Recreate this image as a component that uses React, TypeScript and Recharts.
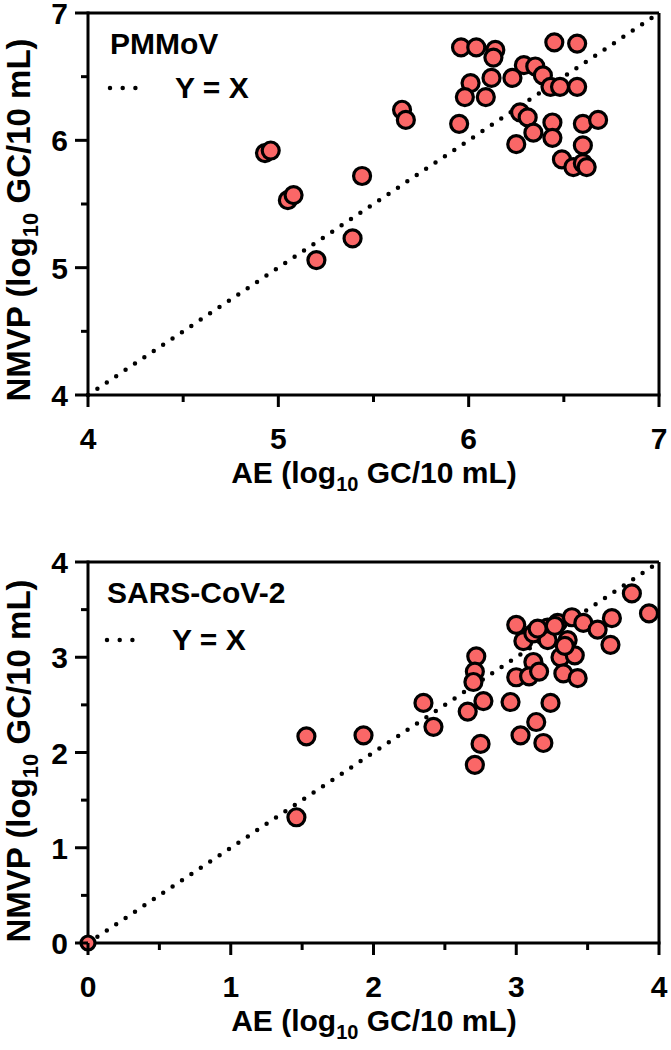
import React from 'react'
import { ScatterChart, Scatter, XAxis, YAxis, ReferenceLine } from 'recharts'

const FONT = '"Liberation Sans", Arial, Helvetica, sans-serif'
const FILL = '#FA6767'

// PMMoV panel
const pmmovAE = [
  4.93, 4.96, 5.05, 5.08, 5.44, 5.39, 5.2, 5.96, 6.04, 6.14, 6.13, 6.45, 6.57, 6.29,
  6.35, 6.39, 6.23, 6.12, 6.01, 5.98, 6.09, 6.43, 6.48, 6.57, 5.65, 5.67, 5.95, 6.27,
  6.31, 6.44, 6.34, 6.44, 6.25, 6.6, 6.68, 6.6, 6.49, 6.55, 6.6, 6.62,
]
const pmmovNMVP = [
  5.9, 5.92, 5.53, 5.57, 5.72, 5.23, 5.06, 6.73, 6.73, 6.71, 6.65, 6.77, 6.76, 6.59,
  6.58, 6.51, 6.49, 6.49, 6.45, 6.34, 6.34, 6.42, 6.42, 6.42, 6.24, 6.16, 6.13, 6.22,
  6.18, 6.14, 6.06, 6.02, 5.97, 6.13, 6.16, 5.96, 5.85, 5.79, 5.82, 5.79,
]
const pmmovTicks = [4, 4.5, 5, 5.5, 6, 6.5, 7]

// SARS-CoV-2 panel
const sarsAE = [
  1.46, 1.53, 1.93, 2.35, 2.42, 2.72, 2.71, 2.7, 2.77, 2.66, 2.75, 2.71, 2.96, 3.0,
  3.05, 3.12, 3.12, 3.0, 3.09, 3.16, 3.22, 3.22, 3.29, 3.39, 3.47, 3.36, 3.31, 3.41,
  3.33, 3.43, 3.24, 3.14, 3.03, 3.19, 3.57, 3.67, 3.66, 3.81, 3.93, 3.15, 3.27, 3.34,
]
const sarsNMVP = [
  1.32, 2.17, 2.18, 2.52, 2.27, 3.01, 2.85, 2.74, 2.54, 2.43, 2.09, 1.87, 2.53, 3.34,
  3.17, 3.25, 2.95, 2.79, 2.8, 2.85, 3.31, 3.18, 3.36, 3.42, 3.36, 3.18, 3.0, 3.02,
  2.83, 2.78, 2.52, 2.32, 2.18, 2.1, 3.29, 3.41, 3.13, 3.67, 3.46, 3.3, 3.33, 3.12,
]
const sarsZero = [{ x: 0, y: 0 }]
const sarsTicks = [0, 0.5, 1, 1.5, 2, 2.5, 3, 3.5, 4]

const toPoints = (xs: number[], ys: number[]) => xs.map((x, i) => ({ x, y: ys[i] }))

const dot = (r: number) => (p: any) => (
  <circle cx={p.cx} cy={p.cy} r={r} fill={FILL} stroke="#000" strokeWidth={3.2} />
)

const XTick = (p: any) => {
  const major = Number.isInteger(p.payload.value)
  return (
    <g>
      <line x1={p.x} x2={p.x} y1={p.y} y2={p.y + (major ? 12 : 7)} stroke="#000" strokeWidth={3} />
      {major && (
        <text x={p.x} y={p.y + 54} textAnchor="middle" fontSize={30} fontWeight="bold" fontFamily={FONT} fill="#000">
          {p.payload.value}
        </text>
      )}
    </g>
  )
}

const YTick = (p: any) => {
  const major = Number.isInteger(p.payload.value)
  return (
    <g>
      <line x1={p.x} x2={p.x - (major ? 13 : 7)} y1={p.y} y2={p.y} stroke="#000" strokeWidth={3} />
      {major && (
        <text x={p.x - 20} y={p.y + 11} textAnchor="end" fontSize={30} fontWeight="bold" fontFamily={FONT} fill="#000">
          {p.payload.value}
        </text>
      )}
    </g>
  )
}

type PanelProps = {
  data: { x: number; y: number }[]
  extra?: { x: number; y: number }[]
  lo: number
  hi: number
  ticks: number[]
  top: number
  marginTop: number
  marginBottom: number
}

function Panel({ data, extra, lo, hi, ticks, top, marginTop, marginBottom }: PanelProps) {
  return (
    <div style={{ position: 'absolute', left: 0, top }}>
      <ScatterChart width={671} height={520} margin={{ top: marginTop, right: 12, bottom: marginBottom, left: 0 }}>
        <XAxis
          type="number"
          dataKey="x"
          domain={[lo, hi]}
          ticks={ticks}
          interval={0}
          height={90}
          tickSize={0}
          tickMargin={0}
          tickLine={false}
          tick={XTick}
          axisLine={{ stroke: '#000', strokeWidth: 3, strokeLinecap: 'square' }}
        />
        <YAxis
          type="number"
          dataKey="y"
          domain={[lo, hi]}
          ticks={ticks}
          interval={0}
          width={88}
          tickSize={0}
          tickMargin={0}
          tickLine={false}
          tick={YTick}
          axisLine={{ stroke: '#000', strokeWidth: 3, strokeLinecap: 'square' }}
        />
        <ReferenceLine y={hi} stroke="#000" strokeWidth={3} />
        <ReferenceLine x={hi} stroke="#000" strokeWidth={3} />
        <Scatter data={data} shape={dot(8.5)} isAnimationActive={false} />
        {extra && <Scatter data={extra} shape={dot(7)} isAnimationActive={false} />}
        <ReferenceLine
          segment={[{ x: lo, y: lo }, { x: hi, y: hi }]}
          stroke="#000"
          strokeWidth={4.5}
          strokeDasharray="0 11.3"
          strokeLinecap="round"
        />
      </ScatterChart>
    </div>
  )
}

const txt = { fontFamily: FONT, fontWeight: 'bold' as const, fill: '#000' }

function AxisTitles({ xCenter, xBase, yCenter }: { xCenter: number; xBase: number; yCenter: number }) {
  return (
    <>
      <text x={xCenter} y={xBase} textAnchor="middle" fontSize={30} {...txt}>
        AE (log<tspan fontSize={20} dy={8}>10</tspan>
        <tspan dy={-8}> GC/10 mL)</tspan>
      </text>
      <text
        x={0}
        y={0}
        transform={`translate(30, ${yCenter}) rotate(-90)`}
        textAnchor="middle"
        fontSize={33}
        {...txt}
      >
        NMVP (log<tspan fontSize={22} dy={8}>10</tspan>
        <tspan dy={-8}> GC/10 mL)</tspan>
      </text>
    </>
  )
}

function LegendKey({ x, y, label, title, titleBase }: { x: number; y: number; label: string; title: string; titleBase: number }) {
  return (
    <>
      <text x={x} y={titleBase} fontSize={30} {...txt}>
        {title}
      </text>
      <line x1={x} x2={x + 38} y1={y} y2={y} stroke="#000" strokeWidth={4.5} strokeDasharray="0 12.7" strokeLinecap="round" />
      <text x={x + 65} y={y + 10} fontSize={30} {...txt}>
        {label}
      </text>
    </>
  )
}

export default function App() {
  return (
    <div style={{ position: 'absolute', left: 0, top: 0, width: 671, height: 1050, background: '#fff' }}>
      <Panel data={toPoints(pmmovAE, pmmovNMVP)} lo={4} hi={7} ticks={pmmovTicks} top={0} marginTop={13} marginBottom={35} />
      <Panel
        data={toPoints(sarsAE, sarsNMVP)}
        extra={sarsZero}
        lo={0}
        hi={4}
        ticks={sarsTicks}
        top={530}
        marginTop={32}
        marginBottom={17}
      />
      <svg width={671} height={1050} style={{ position: 'absolute', left: 0, top: 0, pointerEvents: 'none' }}>
        <AxisTitles xCenter={374} xBase={483} yCenter={220} />
        <AxisTitles xCenter={374} xBase={1031} yCenter={761} />
        <LegendKey x={110} y={88} title="PMMoV" titleBase={54} label="Y = X" />
        <LegendKey x={107} y={640} title="SARS-CoV-2" titleBase={603} label="Y = X" />
      </svg>
    </div>
  )
}
